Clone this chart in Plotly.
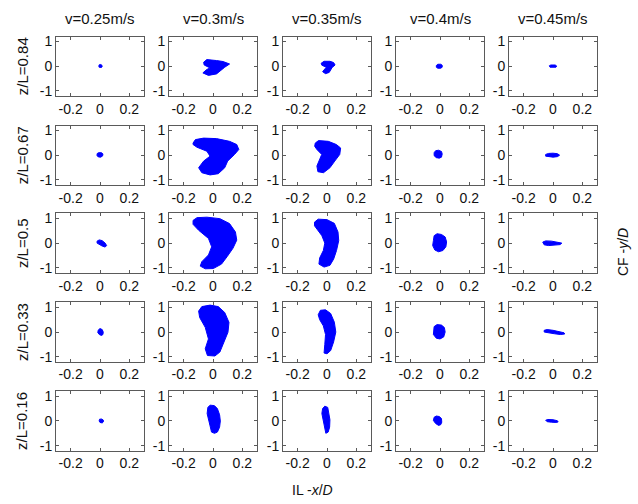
import plotly.graph_objects as go

# ---------------- data ----------------
speeds = ["v=0.25m/s", "v=0.3m/s", "v=0.35m/s", "v=0.4m/s", "v=0.45m/s"]
depths = ["z/L=0.84", "z/L=0.67", "z/L=0.5", "z/L=0.33", "z/L=0.16"]
x_ticks = [-0.2, 0, 0.2]
y_ticks = [-1, 0, 1]

# Row z/L=0.84 orbit outlines (IL x/D, CF y/D)
x_r1c1 = [-0.005, 0.005, 0.013, 0.015, 0.01, 0.0, -0.006, -0.008, -0.005]
y_r1c1 = [0.06, 0.07, 0.04, -0.01, -0.05, -0.06, -0.04, 0.01, 0.06]
x_r1c2 = [-0.064, -0.042, 0.024, 0.069, 0.113, 0.08, 0.024, -0.031, -0.069, -0.042, -0.02, -0.06, -0.064]
y_r1c2 = [0.16, 0.27, 0.23, 0.19, 0.09, -0.04, -0.31, -0.37, -0.27, -0.13, -0.07, 0.05, 0.16]
x_r1c3 = [-0.04, -0.02, 0.02, 0.045, 0.055, 0.035, 0.015, -0.01, -0.03, -0.015, -0.005, -0.035, -0.04]
y_r1c3 = [0.12, 0.2, 0.2, 0.15, 0.05, -0.05, -0.25, -0.3, -0.22, -0.1, -0.04, 0.04, 0.12]
x_r1c4 = [-0.025, -0.015, 0.005, 0.015, 0.015, 0.005, -0.015, -0.025, -0.025]
y_r1c4 = [0.03, 0.08, 0.08, 0.04, -0.04, -0.08, -0.08, -0.04, 0.03]
x_r1c5 = [-0.025, -0.015, 0.015, 0.025, 0.02, 0.0, -0.02, -0.025]
y_r1c5 = [0.02, 0.05, 0.05, 0.01, -0.04, -0.05, -0.04, 0.02]

# Row z/L=0.67
x_r2c1 = [-0.02, -0.01, 0.01, 0.02, 0.018, 0.005, -0.012, -0.02, -0.02]
y_r2c1 = [0.06, 0.1, 0.1, 0.05, -0.03, -0.08, -0.07, -0.02, 0.06]
x_r2c2 = [-0.136, -0.12, -0.064, 0.024, 0.113, 0.162, 0.176, 0.147, 0.10, 0.08, 0.036, -0.02,
          -0.076, -0.098, -0.064, -0.02, -0.042, -0.109, -0.136, -0.136]
y_r2c2 = [0.49, 0.63, 0.69, 0.67, 0.56, 0.43, 0.23, 0.03, -0.24, -0.51, -0.75, -0.8,
          -0.71, -0.51, -0.24, -0.04, 0.16, 0.32, 0.43, 0.49]
x_r2c3 = [-0.08, -0.058, 0.009, 0.064, 0.093, 0.087, 0.053, 0.02, -0.024, -0.062, -0.069,
          -0.047, -0.036, -0.069, -0.084, -0.08]
y_r2c3 = [0.49, 0.59, 0.56, 0.43, 0.29, 0.03, -0.24, -0.51, -0.71, -0.67, -0.44,
          -0.17, 0.03, 0.23, 0.36, 0.49]
x_r2c4 = [-0.04, -0.03, -0.01, 0.01, 0.015, 0.01, -0.005, -0.025, -0.04, -0.04]
y_r2c4 = [0.1, 0.18, 0.2, 0.15, 0.05, -0.08, -0.12, -0.1, -0.02, 0.1]
x_r2c5 = [-0.05, -0.03, 0.0, 0.03, 0.045, 0.03, 0.0, -0.03, -0.05, -0.05]
y_r2c5 = [0.03, 0.07, 0.08, 0.06, 0.0, -0.06, -0.08, -0.07, -0.04, 0.03]

# Row z/L=0.5
x_r3c1 = [-0.02, -0.005, 0.015, 0.035, 0.045, 0.035, 0.015, -0.005, -0.02, -0.02]
y_r3c1 = [0.08, 0.13, 0.1, 0.0, -0.1, -0.16, -0.12, -0.06, 0.0, 0.08]
x_r3c2 = [-0.136, -0.109, -0.042, 0.047, 0.113, 0.153, 0.162, 0.136, 0.096, 0.058, 0.002,
          -0.053, -0.087, -0.076, -0.031, -0.009, -0.031, -0.098, -0.136, -0.136]
y_r3c2 = [0.92, 1.03, 1.05, 0.99, 0.79, 0.45, 0.12, -0.21, -0.55, -0.85, -1.03,
          -1.04, -0.93, -0.75, -0.48, -0.15, 0.19, 0.52, 0.76, 0.92]
x_r3c3 = [-0.085, -0.06, 0.0, 0.05, 0.075, 0.08, 0.065, 0.045, 0.02, -0.02, -0.055,
          -0.05, -0.025, -0.015, -0.035, -0.07, -0.085, -0.085]
y_r3c3 = [0.85, 0.97, 0.95, 0.8, 0.45, 0.1, -0.3, -0.65, -0.9, -0.97, -0.85,
          -0.6, -0.3, 0.0, 0.3, 0.55, 0.7, 0.85]
x_r3c4 = [-0.04, -0.02, 0.01, 0.035, 0.045, 0.04, 0.02, -0.01, -0.035, -0.05, -0.045, -0.04]
y_r3c4 = [0.3, 0.38, 0.35, 0.25, 0.05, -0.15, -0.3, -0.35, -0.28, -0.1, 0.1, 0.3]
x_r3c5 = [-0.07, -0.05, -0.01, 0.03, 0.06, 0.05, 0.01, -0.03, -0.06, -0.07]
y_r3c5 = [0.04, 0.09, 0.08, 0.05, 0.0, -0.06, -0.09, -0.1, -0.07, 0.04]

# Row z/L=0.33
x_r4c1 = [-0.012, 0.0, 0.015, 0.022, 0.02, 0.01, -0.005, -0.015, -0.012]
y_r4c1 = [0.08, 0.14, 0.1, 0.0, -0.1, -0.14, -0.1, -0.02, 0.08]
x_r4c2 = [-0.098, -0.076, -0.02, 0.036, 0.08, 0.109, 0.102, 0.073, 0.047, 0.013, -0.038,
          -0.053, -0.031, -0.053, -0.091, -0.098]
y_r4c2 = [0.85, 1.03, 1.09, 1.03, 0.79, 0.39, -0.01, -0.41, -0.81, -0.97, -0.95,
          -0.68, -0.28, 0.19, 0.59, 0.85]
x_r4c3 = [-0.06, -0.045, -0.01, 0.025, 0.05, 0.06, 0.045, 0.025, 0.0, -0.02, -0.015,
          -0.01, -0.025, -0.05, -0.06]
y_r4c3 = [0.7, 0.88, 0.9, 0.75, 0.4, 0.0, -0.4, -0.75, -0.88, -0.85, -0.5,
          -0.1, 0.25, 0.5, 0.7]
x_r4c4 = [-0.04, -0.02, 0.01, 0.03, 0.035, 0.025, 0.0, -0.025, -0.045, -0.045, -0.04]
y_r4c4 = [0.22, 0.3, 0.28, 0.18, 0.0, -0.2, -0.28, -0.25, -0.1, 0.08, 0.22]
x_r4c5 = [-0.06, -0.04, 0.0, 0.04, 0.075, 0.08, 0.05, 0.01, -0.03, -0.06, -0.06]
y_r4c5 = [0.07, 0.1, 0.07, 0.02, -0.03, -0.08, -0.1, -0.07, -0.03, 0.0, 0.07]

# Row z/L=0.16
x_r5c1 = [-0.003, 0.01, 0.022, 0.024, 0.015, 0.0, -0.006, -0.003]
y_r5c1 = [0.07, 0.08, 0.04, -0.03, -0.08, -0.06, 0.0, 0.07]
x_r5c2 = [-0.035, -0.02, 0.01, 0.03, 0.045, 0.05, 0.045, 0.03, 0.01, -0.01, -0.02, -0.03, -0.04, -0.035]
y_r5c2 = [0.55, 0.64, 0.62, 0.5, 0.25, 0.0, -0.25, -0.45, -0.5, -0.45, -0.2, 0.05, 0.3, 0.55]
x_r5c3 = [-0.03, -0.015, 0.005, 0.015, 0.02, 0.018, 0.008, -0.008, -0.015, -0.025, -0.035, -0.03]
y_r5c3 = [0.5, 0.6, 0.55, 0.3, 0.05, -0.25, -0.45, -0.5, -0.3, 0.0, 0.3, 0.5]
x_r5c4 = [-0.04, -0.025, -0.005, 0.01, 0.012, 0.005, -0.01, -0.03, -0.045, -0.04]
y_r5c4 = [0.15, 0.2, 0.18, 0.1, -0.05, -0.15, -0.18, -0.1, 0.02, 0.15]
x_r5c5 = [-0.05, -0.035, 0.0, 0.03, 0.035, 0.02, -0.01, -0.04, -0.05]
y_r5c5 = [0.03, 0.06, 0.05, 0.01, -0.04, -0.06, -0.05, -0.03, 0.03]

orbits = [
    [(x_r1c1, y_r1c1), (x_r1c2, y_r1c2), (x_r1c3, y_r1c3), (x_r1c4, y_r1c4), (x_r1c5, y_r1c5)],
    [(x_r2c1, y_r2c1), (x_r2c2, y_r2c2), (x_r2c3, y_r2c3), (x_r2c4, y_r2c4), (x_r2c5, y_r2c5)],
    [(x_r3c1, y_r3c1), (x_r3c2, y_r3c2), (x_r3c3, y_r3c3), (x_r3c4, y_r3c4), (x_r3c5, y_r3c5)],
    [(x_r4c1, y_r4c1), (x_r4c2, y_r4c2), (x_r4c3, y_r4c3), (x_r4c4, y_r4c4), (x_r4c5, y_r4c5)],
    [(x_r5c1, y_r5c1), (x_r5c2, y_r5c2), (x_r5c3, y_r5c3), (x_r5c4, y_r5c4), (x_r5c5, y_r5c5)],
]

# ---------------- layout (pixels) ----------------
W, H = 638, 504
col_left = [56, 169, 283, 396, 509]
col_w = 88
row_top = [34, 124, 213, 303, 393]
row_h = 60
FONT = "Liberation Sans, Arial, sans-serif"
BLUE = "rgb(0,0,255)"

fig = go.Figure()
layout = dict(
    width=W, height=H, autosize=False,
    margin=dict(l=0, r=0, t=0, b=0),
    paper_bgcolor="white", plot_bgcolor="white",
    showlegend=False,
    font=dict(family=FONT, size=14, color="#111"),
)

annotations = []
k = 0
for r in range(5):
    for c in range(5):
        k += 1
        xs, ys = orbits[r][c]
        xa = "x" if k == 1 else f"x{k}"
        ya = "y" if k == 1 else f"y{k}"
        fig.add_trace(go.Scatter(
            x=xs, y=ys, mode="lines", fill="toself",
            fillcolor=BLUE, line=dict(color=BLUE, width=1),
            xaxis=xa, yaxis=ya, hoverinfo="skip"))
        x0 = col_left[c] / W
        x1 = (col_left[c] + col_w) / W
        y1 = 1 - row_top[r] / H
        y0 = 1 - (row_top[r] + row_h) / H
        axcommon = dict(showgrid=False, zeroline=False, showline=True,
                        linecolor="#5a5a5a", linewidth=1, mirror="ticks",
                        ticks="inside", ticklen=3, tickcolor="#5a5a5a",
                        tickfont=dict(family=FONT, size=14, color="#111"),
                        fixedrange=True)
        layout["xaxis" if k == 1 else f"xaxis{k}"] = dict(
            domain=[x0, x1], range=[-0.3, 0.3], tickvals=x_ticks,
            ticktext=["-0.2", "0", "0.2"], anchor=ya, **axcommon)
        layout["yaxis" if k == 1 else f"yaxis{k}"] = dict(
            domain=[y0, y1], range=[-1.2, 1.2], tickvals=y_ticks,
            ticktext=["-1", "0", "1"], anchor=xa, **axcommon)

for c in range(5):
    annotations.append(dict(
        text=speeds[c], x=(col_left[c] + col_w / 2) / W, y=1 - 16 / H,
        xref="paper", yref="paper", showarrow=False,
        xanchor="center", yanchor="middle",
        font=dict(family=FONT, size=15, color="#111")))
for r in range(5):
    annotations.append(dict(
        text=depths[r], x=22 / W, y=1 - (row_top[r] + row_h / 2) / H,
        xref="paper", yref="paper", showarrow=False, textangle=-90,
        xanchor="center", yanchor="middle",
        font=dict(family=FONT, size=15, color="#111")))
annotations.append(dict(
    text="IL -<i>x</i>/<i>D</i>", x=312 / W, y=1 - 493 / H,
    xref="paper", yref="paper", showarrow=False,
    xanchor="center", yanchor="middle",
    font=dict(family=FONT, size=14, color="#111")))
annotations.append(dict(
    text="CF -<i>y</i>/<i>D</i>", x=623 / W, y=1 - 252 / H,
    xref="paper", yref="paper", showarrow=False, textangle=-90,
    xanchor="center", yanchor="middle",
    font=dict(family=FONT, size=14, color="#111")))

layout["annotations"] = annotations
fig.update_layout(**layout)
fig.write_html("out.html")
